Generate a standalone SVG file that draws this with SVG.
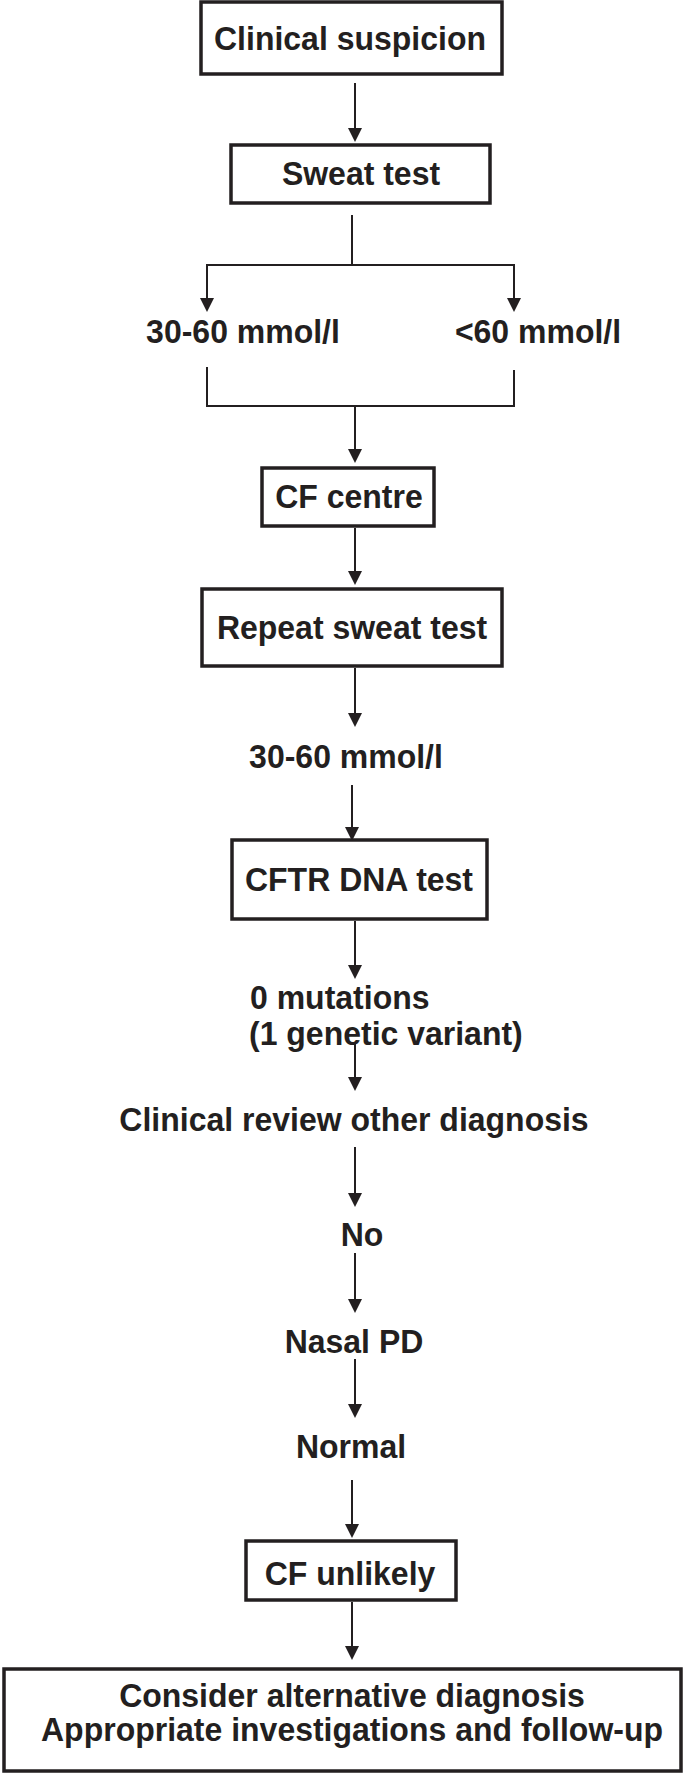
<svg xmlns="http://www.w3.org/2000/svg" width="685" height="1775" viewBox="0 0 685 1775">
<style>
.box{fill:#fff;stroke:#231f20;stroke-width:3.5}
.t{font-family:"Liberation Sans",Arial,sans-serif;font-weight:bold;font-size:33.5px;fill:#231f20;text-anchor:middle}
.s{text-anchor:start}
.c{fill:none;stroke:#231f20;stroke-width:2}
</style>
<defs>
<marker id="ah" markerUnits="userSpaceOnUse" markerWidth="14" markerHeight="14" viewBox="0 0 14 14" refX="11" refY="7" orient="auto">
<path d="M0,0 L14,7 L0,14 z" fill="#231f20"/>
</marker>
</defs>
<rect width="685" height="1775" fill="#fff"/>
<g id="connectors">
<line class="c" x1="355" y1="83" x2="355" y2="139" marker-end="url(#ah)"/>
<line class="c" x1="352" y1="215" x2="352" y2="265"/>
<line class="c" x1="206" y1="265" x2="515" y2="265"/>
<line class="c" x1="207" y1="265" x2="207" y2="309" marker-end="url(#ah)"/>
<line class="c" x1="514" y1="265" x2="514" y2="309" marker-end="url(#ah)"/>
<line class="c" x1="207" y1="367" x2="207" y2="406"/>
<line class="c" x1="514" y1="370" x2="514" y2="406"/>
<line class="c" x1="206" y1="406" x2="515" y2="406"/>
<line class="c" x1="355" y1="406" x2="355" y2="460" marker-end="url(#ah)"/>
<line class="c" x1="355" y1="528" x2="355" y2="582" marker-end="url(#ah)"/>
<line class="c" x1="355" y1="668" x2="355" y2="724" marker-end="url(#ah)"/>
<line class="c" x1="352" y1="785" x2="352" y2="838" marker-end="url(#ah)"/>
<line class="c" x1="355" y1="921" x2="355" y2="976" marker-end="url(#ah)"/>
<line class="c" x1="355" y1="1043" x2="355" y2="1088" marker-end="url(#ah)"/>
<line class="c" x1="355" y1="1147" x2="355" y2="1204" marker-end="url(#ah)"/>
<line class="c" x1="355" y1="1253" x2="355" y2="1310" marker-end="url(#ah)"/>
<line class="c" x1="355" y1="1359" x2="355" y2="1415" marker-end="url(#ah)"/>
<line class="c" x1="352" y1="1480" x2="352" y2="1535" marker-end="url(#ah)"/>
<line class="c" x1="352" y1="1602" x2="352" y2="1657" marker-end="url(#ah)"/>
</g>
<g id="clinical-suspicion"><rect class="box" x="201" y="2" width="301" height="72"/><text class="t" transform="translate(350 50) scale(0.955 1)">Clinical suspicion</text></g>
<g id="sweat-test"><rect class="box" x="231" y="145" width="259" height="58"/><text class="t" transform="translate(361 185) scale(0.955 1)">Sweat test</text></g>
<g id="result-30-60"><text class="t" transform="translate(243 343) scale(0.955 1)">30-60 mmol/l</text></g>
<g id="result-lt60"><text class="t" transform="translate(538 343) scale(0.955 1)">&lt;60 mmol/l</text></g>
<g id="cf-centre"><rect class="box" x="262" y="468" width="172" height="58"/><text class="t" transform="translate(349 508) scale(0.955 1)">CF centre</text></g>
<g id="repeat-sweat-test"><rect class="box" x="202" y="589" width="300" height="77"/><text class="t" transform="translate(352 639) scale(0.955 1)">Repeat sweat test</text></g>
<g id="repeat-result"><text class="t" transform="translate(346 768) scale(0.955 1)">30-60 mmol/l</text></g>
<g id="cftr-dna-test"><rect class="box" x="232" y="840" width="255" height="79"/><text class="t" transform="translate(359 891) scale(0.955 1)">CFTR DNA test</text></g>
<g id="mutations"><text class="t s" transform="translate(250 1009) scale(0.955 1)">0 mutations</text><text class="t s" transform="translate(249 1045) scale(0.955 1)">(1 genetic variant)</text></g>
<g id="clinical-review"><text class="t" transform="translate(354 1131) scale(0.955 1)">Clinical review other diagnosis</text></g>
<g id="no"><text class="t" transform="translate(362 1246) scale(0.955 1)">No</text></g>
<g id="nasal-pd"><text class="t" transform="translate(354 1353) scale(0.955 1)">Nasal PD</text></g>
<g id="normal"><text class="t" transform="translate(351 1458) scale(0.955 1)">Normal</text></g>
<g id="cf-unlikely"><rect class="box" x="246" y="1541" width="210" height="59"/><text class="t" transform="translate(350 1585) scale(0.955 1)">CF unlikely</text></g>
<g id="alternative"><rect class="box" x="4" y="1669" width="677" height="102"/><text class="t" transform="translate(352 1707) scale(0.955 1)">Consider alternative diagnosis</text><text class="t" transform="translate(352 1741) scale(0.955 1)">Appropriate investigations and follow-up</text></g>
</svg>
